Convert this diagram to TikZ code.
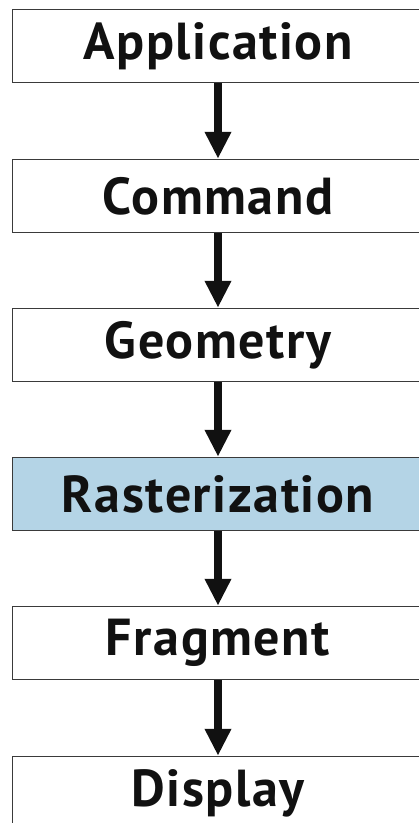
\documentclass[tikz,border=0pt]{standalone}
\usepackage{fontspec}
\setmainfont{PT Sans}
\newfontfamily\stagefont[LetterSpace=3]{PT Sans}
\usetikzlibrary{arrows.meta}
\definecolor{boxline}{HTML}{3A3A3A}
\definecolor{rastblue}{HTML}{B4D4E6}
\definecolor{arrowc}{HTML}{111111}
\tikzset{
  stagebox/.style={draw=boxline, line width=1.5pt, fill=white, minimum width=411pt, minimum height=73pt, inner sep=0pt, font=\stagefont\fontsize{52}{60}\selectfont\bfseries, text=arrowc},
  flowarrow/.style={draw=arrowc, line width=8pt, -{Triangle[width=25pt,length=27pt]}}
}
\begin{document}
\begin{tikzpicture}[x=1pt,y=-1pt]
\useasboundingbox (0,0) rectangle (419,823);
\node[stagebox] (app) at (218,46) {Application};
\node[stagebox] (cmd) at (218,196) {Command};
\node[stagebox] (geo) at (218,345) {Geometry};
\node[stagebox, fill=rastblue] (ras) at (218,494) {Rasterization};
\node[stagebox] (frag) at (218,643) {Fragment};
\node[stagebox] (disp) at (218,793) {Display};
\draw[flowarrow] (app.south) -- (cmd.north);
\draw[flowarrow] (cmd.south) -- (geo.north);
\draw[flowarrow] (geo.south) -- (ras.north);
\draw[flowarrow] (ras.south) -- (frag.north);
\draw[flowarrow] (frag.south) -- (disp.north);
\end{tikzpicture}
\end{document}
